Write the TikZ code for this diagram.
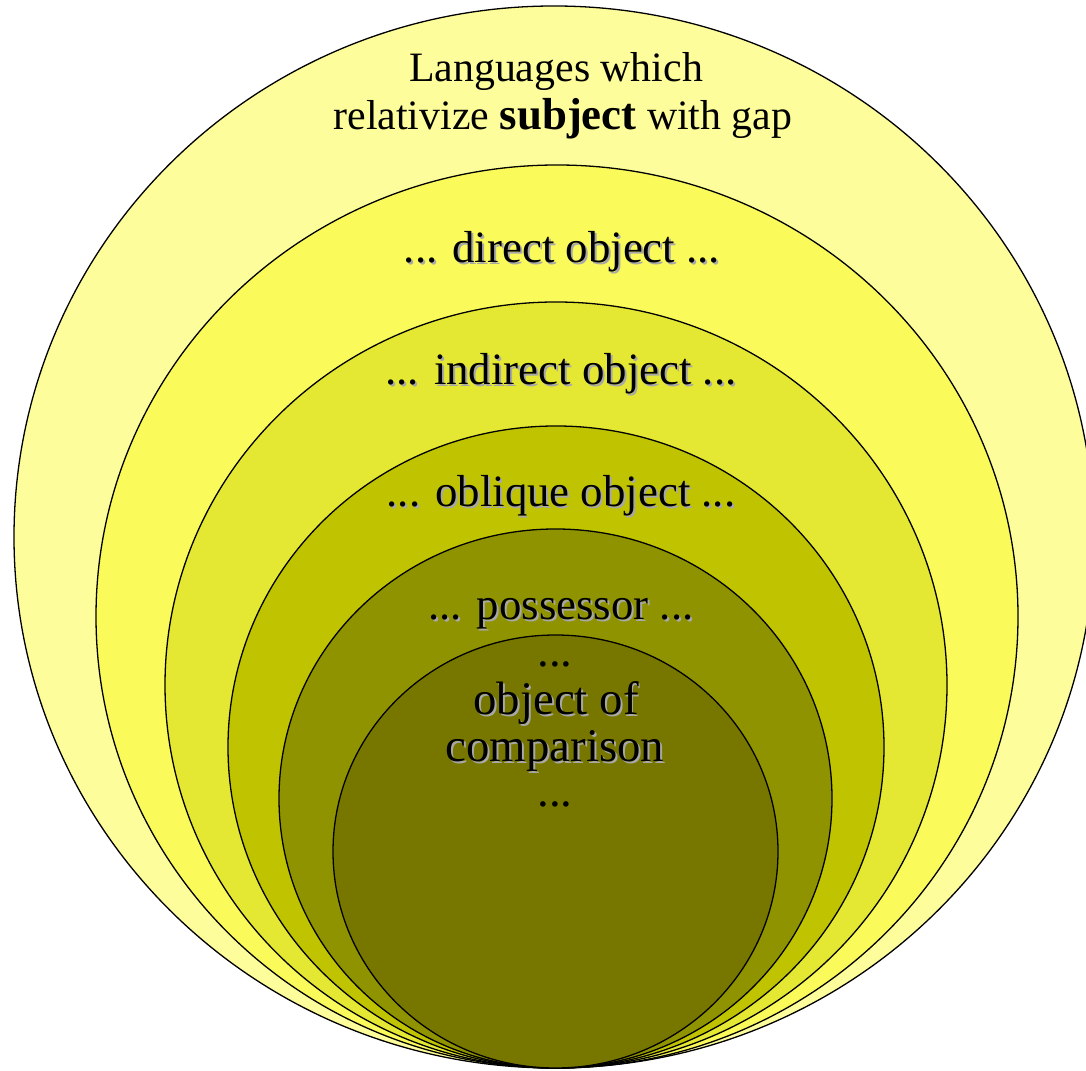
\documentclass[tikz,border=0pt]{standalone}
\usepackage{fontspec}
\setmainfont{Liberation Serif}
\usepackage{xcolor}
\usepackage{tikz}
\definecolor{ringa}{HTML}{FDFD9B}
\definecolor{ringb}{HTML}{FAFA5A}
\definecolor{ringc}{HTML}{E5E833}
\definecolor{ringd}{HTML}{C0C300}
\definecolor{ringe}{HTML}{909300}
\definecolor{ringf}{HTML}{777700}
\definecolor{shade}{HTML}{A8A8A8}
\tikzset{
  ring/.style={draw=black, line width=1.3pt},
  top/.style={anchor=base, inner sep=0pt, font=\fontsize{42}{48}\selectfont},
  lab/.style={anchor=base, inner sep=0pt, font=\fontsize{45}{50}\selectfont},
  labi/.style={anchor=base, inner sep=0pt, font=\fontsize{47}{50}\selectfont},
  shd/.style={text=shade, xshift=2pt, yshift=-2pt},
}
\begin{document}
\begin{tikzpicture}[x=1bp, y=1bp]
  \useasboundingbox (0,0) rectangle (1086,1071);

  % nested rings, all touching at the bottom
  \foreach \cx/\rx/\ry/\col in {554/540/531/ringa, 557/461/451.5/ringb,
      556/391/383/ringc, 556/328/321/ringd, 555.5/276.5/269.5/ringe,
      555.5/222.5/216.5/ringf}
    \filldraw[ring, fill=\col] (\cx,3+\ry) ellipse [x radius=\rx, y radius=\ry];

  \node[top] (lang) at (556,989) {Languages which};
  \node[top] (subj) at (563,941) {relativize \textbf{\fontsize{45}{48}\selectfont subject} with gap};

  \node[lab,shd] (dobj-s) at (562,808) {... direct object ...};
  \node[lab] (dobj) at (562,808) {... direct object ...};
  \node[lab,shd] (iobj-s) at (561,686) {... indirect object ...};
  \node[lab] (iobj) at (561,686) {... indirect object ...};
  \node[lab,shd] (obl-s) at (561,564) {... oblique object ...};
  \node[lab] (obl) at (561,564) {... oblique object ...};
  \node[lab,shd] (poss-s) at (561,451) {... possessor ...};
  \node[lab] (poss) at (561,451) {... possessor ...};

  \node[labi] (dotsa) at (555,404) {...};
  \node[labi,shd] (ocmp-s) at (556,356) {object of};
  \node[labi] (ocmp) at (556,356) {object of};
  \node[labi,shd] (cmp-s) at (555,309) {comparison};
  \node[labi] (cmp) at (555,309) {comparison};
  \node[labi] (dotsb) at (555,264) {...};
\end{tikzpicture}
\end{document}
